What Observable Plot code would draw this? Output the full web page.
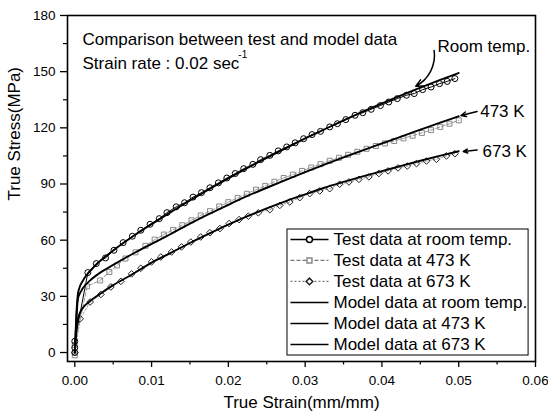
<!DOCTYPE html>
<html><head><meta charset="utf-8">
<script src="https://cdn.jsdelivr.net/npm/d3@7"></script>
<script src="https://cdn.jsdelivr.net/npm/@observablehq/plot@0.6"></script>
<style>body{margin:0;background:#fff;} #chart svg{display:block;}</style>
</head><body><div id="chart"></div>
<script>
// ---- data ----
const roomTestX = [0,0,0,0.0017,0.0028,0.0040,0.0051,0.0063,0.0075,0.0086,0.0098,0.0110,0.0120,0.0132,0.0143,0.0154,0.0165,0.0176,0.0187,0.0198,0.0209,0.0220,0.0232,0.0242,0.0254,0.0265,0.0276,0.0287,0.0298,0.0309,0.0320,0.0332,0.0342,0.0353,0.0365,0.0375,0.0386,0.0398,0.0409,0.0420,0.0432,0.0442,0.0453,0.0464,0.0475,0.0485,0.0495];
const roomTestY = [0,2.6,6,42.7,47.5,50.5,54.6,58.7,62.1,65.3,68.5,71.5,74.7,77.8,80,83,85.4,88,90.6,93.2,95.6,98.2,100.5,103,105.3,107.7,109.8,112,114.2,116.4,118.1,120.5,122.2,124.4,126.7,128.1,129.9,131.9,133.8,135.6,137.4,138.3,140.4,141.8,143.6,144.8,146.3];
const t473X = [0,0,0.0016,0.0033,0.0045,0.0055,0.0066,0.0079,0.0092,0.0104,0.0116,0.0128,0.0140,0.0152,0.0164,0.0176,0.0188,0.0200,0.0212,0.0224,0.0236,0.0248,0.0260,0.0272,0.0284,0.0296,0.0308,0.0320,0.0332,0.0344,0.0356,0.0368,0.0380,0.0392,0.0404,0.0416,0.0428,0.0440,0.0452,0.0464,0.0476,0.0488,0.0500];
const t473Y = [-1.5,4,35.3,38.5,43,46.5,50.2,53.5,57,60.3,63,65.5,68,70.6,73.2,75.5,78,80.3,82.6,84.8,87,89,91.2,93.2,95,97,98.8,100.6,102.4,104,105.6,107.2,108.8,110.3,111.7,113,114.4,115.8,117.3,118.8,120.5,122.2,124];
const t673X = [0,0.0007,0.0020,0.0034,0.0047,0.0060,0.0074,0.0086,0.0100,0.0112,0.0126,0.0139,0.0151,0.0164,0.0176,0.0189,0.0201,0.0214,0.0226,0.0239,0.0254,0.0267,0.0280,0.0293,0.0306,0.0319,0.0332,0.0345,0.0357,0.0370,0.0383,0.0396,0.0408,0.0421,0.0433,0.0445,0.0458,0.0471,0.0484,0.0495];
const t673Y = [0,18,27,31,35,38,42,45,48.4,51,53.7,56.4,59,61.7,64,66.2,68.9,71,72.8,74.6,76.3,78.6,80.4,82.7,84.9,86.3,87.5,89.9,91.1,92.5,93.8,95.6,97,98.6,99.6,100.9,102.3,103.2,105,106.2];
const modelX = [0,0.0002,0.0004,0.0006,0.001,0.002,0.003,0.005,0.0075,0.01,0.0125,0.015,0.0175,0.02,0.0225,0.025,0.0275,0.03,0.0325,0.035,0.0375,0.04,0.0425,0.045,0.0475,0.05];
const mRoomY = [0,20,31,34.5,38,43.5,47.8,54.5,61.8,68.5,75,81.2,87.2,93,98.6,104,109.2,114.3,119.2,124,128.6,133.1,137.4,141.5,145.5,149.3];
const m473Y = [0,17,28.5,31,34,38.5,41.8,46.8,52.6,58,63.3,68.8,74,78.9,83.6,88,92.2,96.3,100.3,104.2,108,111.7,115.3,119,122.7,126.2];
const m673Y = [0,11,17.5,20.5,23.5,27.5,30.5,36,41.8,48,53.2,58.5,63.5,68.3,72.8,77,80.9,84.5,88,91.1,94.1,96.9,99.7,102.4,105,107.5];

const xMajor = [0,0.01,0.02,0.03,0.04,0.05,0.06];
const xMinor = [0.005,0.015,0.025,0.035,0.045,0.055];
const yMajor = [0,30,60,90,120,150,180];
const yMinor = [15,45,75,105,135,165];

const legendLabels = ["Test data at room temp.","Test data at 473 K","Test data at 673 K","Model data at room temp.","Model data at 473 K","Model data at 673 K"];

// annotations (data coordinates)
const noteTexts = ["Comparison between test and model data","Strain rate : 0.02 sec","Room temp.","473 K","673 K"];
const noteX = [0.0010,0.0010,0.04724,0.0528,0.0531];
const noteY = [167.2,154.4,163.4,128.7,107.4];
const supText = ["-1"], supX = [0.02130], supY = [159.0];
const arrowRoom = [{x1:0.0468,y1:161.3,x2:0.0444,y2:142.2}];
const arrowsStraight = [{x1:0.0524,y1:128.7,x2:0.0503,y2:126.6},{x1:0.0524,y1:108.2,x2:0.0506,y2:107.4}];

// ---- build records ----
const zip = (X,Y) => X.map((x,i)=>({x, y:Y[i]}));
const roomTest = zip(roomTestX, roomTestY);
const test473 = zip(t473X, t473Y);
const test673 = zip(t673X, t673Y);
const modelRoom = zip(modelX, mRoomY);
const model473 = zip(modelX, m473Y);
const model673 = zip(modelX, m673Y);
const notes = noteTexts.map((t,i)=>({text:t, x:noteX[i], y:noteY[i]}));

// legend layout in data coords
const lgTop = 60.4, lgStep = 11.22;
const legend = legendLabels.map((t,i)=>({text:t, y: lgTop - i*lgStep, i}));
const lgX1 = 0.02809, lgX2 = 0.03304, lgXs = 0.03056, lgXt = 0.03369;
const box = [{x1:0.0277, x2:0.0591, y1:-1.6, y2:65.7}];

const font = "'Liberation Sans', Arial, Helvetica, sans-serif";

const chart = Plot.plot({
  width: 548, height: 415,
  marginLeft: 67, marginRight: 13, marginTop: 15, marginBottom: 54,
  style: {fontFamily: font, fontSize: "13.5px", color: "#000", background: "#fff"},
  x: {domain: [-0.00095, 0.06]},
  y: {domain: [-4.8, 180]},
  marks: [
    // axes
    Plot.axisX(xMajor, {tickSize: 6, tickPadding: 8, tickFormat: d3.format(".2f"), label: null, strokeWidth: 1.3, fontSize: 13.5}),
    Plot.axisX(xMinor, {tickSize: 3.5, tickFormat: () => "", label: null, strokeWidth: 1.2}),
    Plot.axisY(yMajor, {tickSize: 7, tickPadding: 5, tickFormat: d3.format("d"), label: null, strokeWidth: 1.3, fontSize: 13.5}),
    Plot.axisY(yMinor, {tickSize: 4, tickFormat: () => "", label: null, strokeWidth: 1.2}),
    Plot.text(["True Strain(mm/mm)"], {frameAnchor: "bottom", dy: 46, fontSize: 17}),
    Plot.text(["True Stress(MPa)"], {frameAnchor: "left", rotate: -90, dx: -53, dy: 12, fontSize: 17}),
    // test data lines
    Plot.line(roomTest, {x: "x", y: "y", stroke: "#000", strokeWidth: 1}),
    Plot.line(test473, {x: "x", y: "y", stroke: "#999", strokeWidth: 1, strokeDasharray: "4,2"}),
    Plot.line(test673, {x: "x", y: "y", stroke: "#999", strokeWidth: 1, strokeDasharray: "2,2"}),
    // test data markers
    Plot.dot(test473, {x: "x", y: "y", symbol: "square", r: 2.8, stroke: "#888", strokeWidth: 1, fill: "none"}),
    Plot.dot(roomTest, {x: "x", y: "y", r: 3, stroke: "#000", strokeWidth: 1, fill: "none"}),
    Plot.dot(test673, {x: "x", y: "y", symbol: "diamond2", r: 3, stroke: "#222", strokeWidth: 1, fill: "none"}),
    // model lines
    Plot.line(modelRoom, {x: "x", y: "y", stroke: "#000", strokeWidth: 1.9, curve: "monotone-x"}),
    Plot.line(model473, {x: "x", y: "y", stroke: "#000", strokeWidth: 1.9, curve: "monotone-x"}),
    Plot.line(model673, {x: "x", y: "y", stroke: "#000", strokeWidth: 1.9, curve: "monotone-x"}),
    // annotations
    Plot.text(notes, {x: "x", y: "y", text: "text", textAnchor: "start", fontSize: 17}),
    Plot.text(supText, {x: supX, y: supY, text: d => d, textAnchor: "start", fontSize: 10}),
    Plot.arrow(arrowRoom, {x1: "x1", y1: "y1", x2: "x2", y2: "y2", bend: 35, headLength: 8, headAngle: 50, strokeWidth: 1.5}),
    Plot.arrow(arrowsStraight, {x1: "x1", y1: "y1", x2: "x2", y2: "y2", headLength: 8, headAngle: 50, strokeWidth: 1.5}),
    // legend
    Plot.rect(box, {x1: "x1", x2: "x2", y1: "y1", y2: "y2", fill: "#fff", stroke: "#000", strokeWidth: 1}),
    Plot.link(legend.filter(d => d.i === 0 || d.i > 2), {x1: lgX1, x2: lgX2, y1: "y", y2: "y", stroke: "#000", strokeWidth: 1.6}),
    Plot.link(legend.filter(d => d.i === 1), {x1: lgX1, x2: lgX2, y1: "y", y2: "y", stroke: "#777", strokeWidth: 1.2, strokeDasharray: "4,2"}),
    Plot.link(legend.filter(d => d.i === 2), {x1: lgX1, x2: lgX2, y1: "y", y2: "y", stroke: "#777", strokeWidth: 1.2, strokeDasharray: "2,2"}),
    Plot.dot(legend.filter(d => d.i === 0), {x: lgXs, y: "y", r: 3, stroke: "#000", fill: "#fff"}),
    Plot.dot(legend.filter(d => d.i === 1), {x: lgXs, y: "y", r: 2.8, symbol: "square", stroke: "#888", fill: "#fff"}),
    Plot.dot(legend.filter(d => d.i === 2), {x: lgXs, y: "y", r: 3, symbol: "diamond2", stroke: "#222", fill: "#fff"}),
    Plot.text(legend, {x: lgXt, y: "y", text: "text", textAnchor: "start", fontSize: 17}),
    Plot.frame({stroke: "#000", strokeWidth: 1.6})
  ]
});
document.getElementById("chart").appendChild(chart);
</script>
</body></html>
